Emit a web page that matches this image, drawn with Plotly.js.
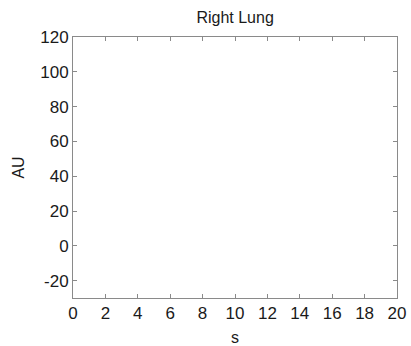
<!DOCTYPE html>
<html>
<head>
<meta charset="utf-8">
<script src="https://cdn.plot.ly/plotly-3.0.1.min.js"></script>
<style>html,body{margin:0;padding:0;background:#fff;}#chart{width:411px;height:346px;}</style>
</head>
<body>
<div id="chart"></div>
<script>
// Data (the reference plot shows no visible series)
const timeS = [];
const signalAU = [];
const xTickVals = [0, 2, 4, 6, 8, 10, 12, 14, 16, 18, 20];
const xTickText = ['0', '2', '4', '6', '8', '10', '12', '14', '16', '18', '20'];
const yTickVals = [-20, 0, 20, 40, 60, 80, 100, 120];
const yTickText = ['-20', '0', '20', '40', '60', '80', '100', '120'];
const xRange = [0, 20];
const yRange = [-30, 120];

const fam = 'Liberation Sans, Arial, sans-serif';

const axisCommon = {
  showgrid: false, zeroline: false, showline: true, mirror: 'ticks',
  linecolor: '#8a8a8a', linewidth: 1,
  ticks: 'inside', ticklen: 4, tickcolor: '#8a8a8a', tickwidth: 1,
  tickfont: {family: fam, size: 17, color: '#1a1a1a'}
};

Plotly.newPlot('chart', [{
  x: timeS, y: signalAU, type: 'scatter', mode: 'lines',
  line: {color: '#0000ff', width: 1}, showlegend: false
}], {
  width: 411, height: 346,
  margin: {l: 73, r: 14, t: 37, b: 48},
  paper_bgcolor: '#fff', plot_bgcolor: '#fff',
  title: {text: 'Right Lung', font: {family: fam, size: 16, color: '#1a1a1a'}, x: 0.572, xanchor: 'center', y: 0.95, yanchor: 'middle'},
  xaxis: Object.assign({}, axisCommon, {
    range: xRange, tickmode: 'array', tickvals: xTickVals, ticktext: xTickText,
    title: {text: 's', font: {family: fam, size: 16, color: '#1a1a1a'}, standoff: 9}
  }),
  yaxis: Object.assign({}, axisCommon, {
    range: yRange, tickmode: 'array', tickvals: yTickVals, ticktext: yTickText,
    title: {text: 'AU', font: {family: fam, size: 16, color: '#1a1a1a'}, standoff: 11}
  })
}, {staticPlot: true, displayModeBar: false});
</script>
</body>
</html>
